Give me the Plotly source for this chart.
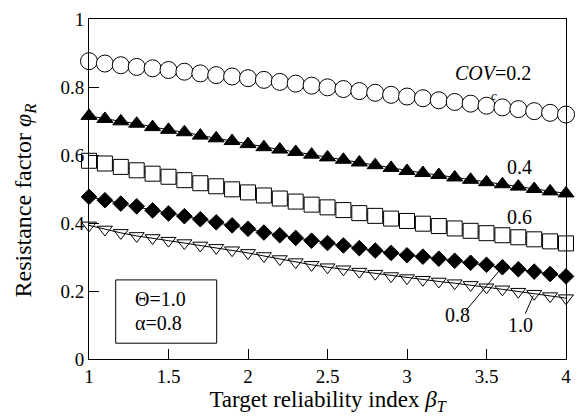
import plotly.graph_objects as go

beta = [round(1.0 + 0.1 * i, 1) for i in range(31)]

cov_02 = [0.876, 0.869, 0.864, 0.859, 0.855, 0.850, 0.845, 0.840, 0.835, 0.831,
          0.826, 0.821, 0.815, 0.810, 0.804, 0.799, 0.794, 0.788, 0.783, 0.777,
          0.772, 0.767, 0.761, 0.756, 0.751, 0.745, 0.740, 0.735, 0.729, 0.724, 0.719]
cov_04 = [0.715, 0.706, 0.699, 0.692, 0.682, 0.674, 0.667, 0.657, 0.649, 0.641,
          0.632, 0.623, 0.616, 0.609, 0.601, 0.593, 0.586, 0.578, 0.570, 0.562,
          0.553, 0.547, 0.541, 0.534, 0.527, 0.520, 0.514, 0.507, 0.500, 0.493, 0.487]
cov_06 = [0.583, 0.575, 0.565, 0.555, 0.545, 0.536, 0.526, 0.517, 0.508, 0.499,
          0.490, 0.481, 0.472, 0.463, 0.454, 0.446, 0.438, 0.429, 0.421, 0.413,
          0.406, 0.398, 0.391, 0.384, 0.377, 0.370, 0.364, 0.358, 0.352, 0.346, 0.340]
cov_08 = [0.477, 0.467, 0.457, 0.449, 0.437, 0.428, 0.420, 0.411, 0.402, 0.393,
          0.383, 0.372, 0.364, 0.356, 0.348, 0.341, 0.334, 0.326, 0.319, 0.312,
          0.305, 0.301, 0.295, 0.289, 0.283, 0.277, 0.270, 0.264, 0.257, 0.250, 0.243]
cov_10 = [0.393, 0.381, 0.371, 0.362, 0.356, 0.348, 0.341, 0.334, 0.327, 0.320,
          0.312, 0.303, 0.294, 0.285, 0.277, 0.270, 0.264, 0.257, 0.251, 0.244,
          0.238, 0.233, 0.228, 0.223, 0.218, 0.211, 0.205, 0.198, 0.192, 0.185, 0.179]

x_ticks = [1, 1.5, 2, 2.5, 3, 3.5, 4]
x_ticktext = ["1", "1.5", "2", "2.5", "3", "3.5", "4"]
y_ticks = [0, 0.2, 0.4, 0.6, 0.8, 1.0]
y_ticktext = ["0", "0.2", "0.4", "0.6", "0.8", "1"]

FONT = "Liberation Serif, Times New Roman, serif"

series = [
    (cov_02, "circle", 17, "white"),
    (cov_04, "triangle-up", 14, "black"),
    (cov_06, "square", 15, "white"),
    (cov_08, "diamond", 12, "black"),
    (cov_10, "triangle-down-open", 13, "black"),
]

fig = go.Figure()
for vals, sym, size, fill in series:
    fig.add_trace(go.Scatter(
        x=beta, y=vals, mode="lines+markers",
        line=dict(color="black", width=1),
        marker=dict(symbol=sym, size=size, color=fill,
                    line=dict(color="black", width=1)),
        cliponaxis=False, showlegend=False,
    ))

ann = []
def add_text(x, y, text, size=20, xanchor="center"):
    ann.append(dict(x=x, y=y, xref="x", yref="y", text=text, showarrow=False,
                    xanchor=xanchor, yanchor="middle",
                    font=dict(family=FONT, size=size, color="black")))

add_text(3.542, 0.840, "<i>COV</i>=0.2")
add_text(3.545, 0.776, "<i>c</i>", size=13)
add_text(3.707, 0.564, "0.4")
add_text(3.707, 0.419, "0.6")
add_text(3.315, 0.128, "0.8")
add_text(3.713, 0.099, "1.0")
add_text(1.274, 0.177, "\u0398=1.0", xanchor="left")
add_text(1.274, 0.105, "\u03b1=0.8", xanchor="left")

# y-axis title as an annotation (positioned like the reference)
ann.append(dict(x=-0.135, y=0.465, xref="paper", yref="paper",
                text="Resistance factor <i>\u03c6</i><sub><i>R</i></sub>",
                textangle=-90, showarrow=False, xanchor="center", yanchor="middle",
                font=dict(family=FONT, size=24, color="black")))

shapes = [
    dict(type="rect", xref="x", yref="y", x0=1.168, x1=1.803, y0=0.0465, y1=0.2326,
         line=dict(color="black", width=1), fillcolor="rgba(0,0,0,0)"),
    dict(type="line", xref="x", yref="y", x0=3.365, y0=0.1395, x1=3.589, y1=0.2645,
         line=dict(color="black", width=1)),
    dict(type="line", xref="x", yref="y", x0=3.744, y0=0.1337, x1=3.794, y1=0.186,
         line=dict(color="black", width=1)),
]

fig.update_layout(
    width=580, height=418,
    margin=dict(l=89, r=9, t=15, b=59),
    paper_bgcolor="white", plot_bgcolor="white",
    font=dict(family=FONT, color="black"),
    annotations=ann, shapes=shapes,
    xaxis=dict(
        range=[1, 4], tickvals=x_ticks, ticktext=x_ticktext,
        ticks="inside", ticklen=10, tickwidth=1, tickcolor="black",
        showline=True, linecolor="black", linewidth=1, mirror=True,
        showgrid=False, zeroline=False,
        tickfont=dict(family=FONT, size=19, color="black"),
        title=dict(text="Target reliability index <i>\u03b2</i><sub><i>T</i></sub>",
                   font=dict(family=FONT, size=23, color="black"), standoff=3),
    ),
    yaxis=dict(
        range=[0, 1], tickvals=y_ticks, ticktext=y_ticktext,
        ticks="inside", ticklen=10, tickwidth=1, tickcolor="black",
        showline=True, linecolor="black", linewidth=1, mirror=True,
        showgrid=False, zeroline=False,
        tickfont=dict(family=FONT, size=19, color="black"),
    ),
)

fig.write_html("out.html")
